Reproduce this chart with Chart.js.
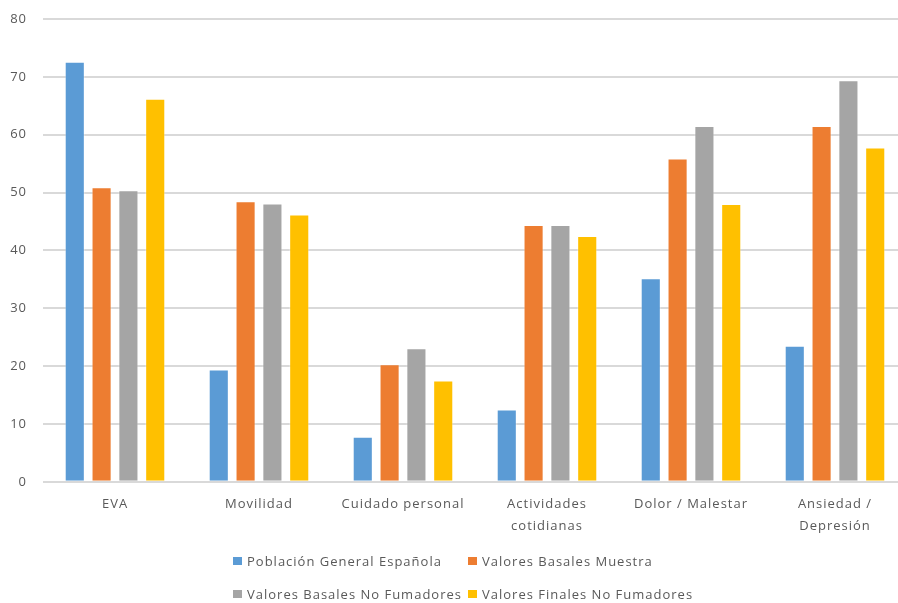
<!DOCTYPE html>
<html>
<head>
<meta charset="utf-8">
<script src="https://cdn.jsdelivr.net/npm/chart.js@4"></script>
<style>
  html, body { margin: 0; padding: 0; background: #fff; overflow: hidden; }
  #wrap { position: relative; width: 910px; height: 603px; }
  #legend { position: absolute; left: 233px; top: 551px; font-family: "Open Sans", sans-serif; font-size: 13px; color: #595959;
            display: grid; grid-template-columns: 235px auto; row-gap: 13px; }
  .item { display: flex; align-items: center; white-space: nowrap; letter-spacing: 1px; height: 20px; }
  .box { width: 9px; height: 8px; margin-right: 5px; display: inline-block; }
</style>
</head>
<body>
<div id="wrap">
  <canvas id="c" width="910" height="603"></canvas>
  <div id="legend"></div>
</div>
<script>
const categories = ["EVA", "Movilidad", "Cuidado personal", ["Actividades", "cotidianas"], "Dolor / Malestar", ["Ansiedad /", "Depresión"]];
const seriesNames = ["Población General Española", "Valores Basales Muestra", "Valores Basales No Fumadores", "Valores Finales No Fumadores"];
const poblacionGeneral = [72.6, 19.4, 7.8, 12.5, 35.2, 23.5];
const basalesMuestra = [50.9, 48.5, 20.3, 44.4, 55.9, 61.5];
const basalesNoFumadores = [50.4, 48.1, 23.1, 44.4, 61.5, 69.4];
const finalesNoFumadores = [66.2, 46.2, 17.5, 42.5, 48.0, 57.8];
const colors = ["#5b9bd5", "#ed7d31", "#a5a5a5", "#ffc000"];
const yTicks = [0, 10, 20, 30, 40, 50, 60, 70, 80];

const values = [poblacionGeneral, basalesMuestra, basalesNoFumadores, finalesNoFumadores];
const datasets = seriesNames.map((name, i) => ({
  label: name,
  data: values[i],
  backgroundColor: colors[i],
  borderColor: "rgba(255,255,255,0.35)",
  borderWidth: 1,
  categoryPercentage: 0.745,
  barPercentage: 0.75
}));

const spacing = {
  id: "spacing",
  beforeInit: c => { c.ctx.letterSpacing = "1px"; },
  beforeUpdate: c => { c.ctx.letterSpacing = "1px"; },
  beforeDraw: c => { c.ctx.letterSpacing = "1px"; }
};

const font = { family: "'Open Sans', sans-serif", size: 13 };
new Chart(document.getElementById("c"), {
  type: "bar",
  data: { labels: categories, datasets },
  plugins: [spacing],
  options: {
    responsive: false,
    animation: false,
    layout: { padding: { top: 19, right: 3, bottom: 55, left: 0 } },
    plugins: { legend: { display: false }, tooltip: { enabled: false } },
    scales: {
      x: {
        grid: { display: false, drawTicks: false },
        border: { display: false },
        ticks: { color: "#595959", font: { ...font, lineHeight: 1.7 }, padding: 11, maxRotation: 0, autoSkip: false }
      },
      y: {
        min: 0, max: 80,
        afterBuildTicks: s => { s.ticks = yTicks.map(v => ({ value: v })); },
        afterFit: s => { s.width = 43; s.paddingTop = 0; s.paddingBottom = 0; },
        grid: { color: "#d9d9d9", lineWidth: 2, drawTicks: false },
        border: { display: false },
        ticks: { color: "#595959", font, padding: 16 }
      }
    }
  }
});

const legend = document.getElementById("legend");
seriesNames.forEach((n, i) => {
  const d = document.createElement("div");
  d.className = "item";
  d.innerHTML = '<span class="box" style="background:' + colors[i] + '"></span>' + n;
  legend.appendChild(d);
});
</script>
</body>
</html>
